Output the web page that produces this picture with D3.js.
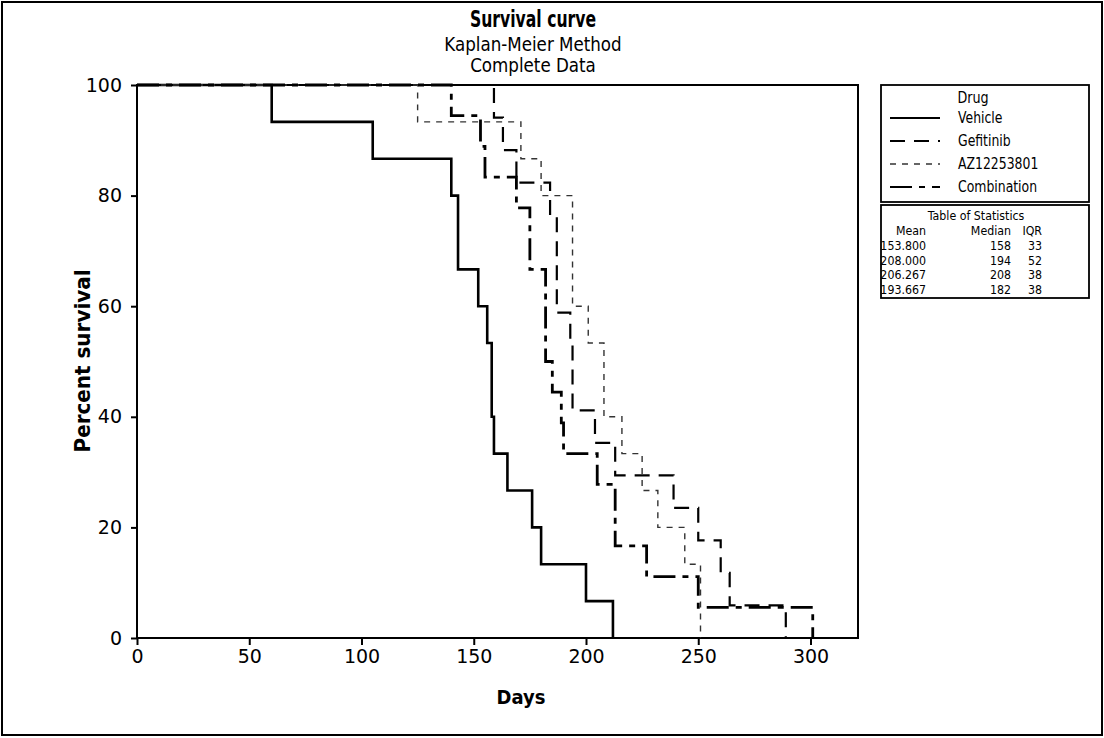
<!DOCTYPE html>
<html><head><meta charset="utf-8">
<script src="https://cdn.jsdelivr.net/npm/d3@7"></script>
<style>
html,body{margin:0;padding:0;background:#fff;}
svg{display:block;}
text{font-family:"DejaVu Sans",sans-serif;fill:#000;}
</style></head>
<body>
<script>
// ---- data: event (death) times in days for each group (complete data, no censoring) ----
const groups = ["Vehicle","Gefitinib","AZ12253801","Combination"];
const vehicleTimes = [60,105,140,143,143,152,156,158,158,159,165,176,180,200,212];
const gefitinibTimes = [159,163,169,184,187,187,187,193,194,194,204,213,239,250,260,264,289];
const azTimes = [125,171,180,194,194,194,201,208,208,216,225,232,244,251,251];
const combinationTimes = [140,153,155,169,175,175,182,182,182,185,189,190,205,213,213,227,250,301];
const xTicks = [0,50,100,150,200,250,300];
const yTicks = [0,20,40,60,80,100];
const statMean = ["153.800","208.000","206.267","193.667"];
const statMedian = ["158","194","208","182"];
const statIQR = ["33","52","38","38"];

const W=1104,H=738;
const L=137,R=858,T=85,B=638;
const svg=d3.select("body").append("svg").attr("width",W).attr("height",H);
svg.append("rect").attr("x",2).attr("y",2).attr("width",W-4).attr("height",H-5)
  .attr("fill","none").attr("stroke","#000").attr("stroke-width",2);

const x=d3.scaleLinear().domain([0,300]).range([L,810.5]);
const y=d3.scaleLinear().domain([0,100]).range([B,T]);

function txt(g,xx,yy,s,size,opts={}){
  const t=g.append("text").attr("transform",`translate(${xx},${yy}) scale(${opts.sx||1},1)`)
    .attr("text-anchor",opts.anchor||"start").style("font-size",size+"px").text(s);
  if(opts.bold) t.style("font-weight","bold");
  return t;
}
// titles
txt(svg,533,27,"Survival curve",23,{anchor:"middle",bold:true,sx:0.68});
txt(svg,533,51,"Kaplan-Meier Method",19,{anchor:"middle",sx:0.88});
txt(svg,533,72,"Complete Data",19,{anchor:"middle",sx:0.88});

// axes
const gx=svg.append("g").attr("transform",`translate(0,${B})`)
  .call(d3.axisBottom(x).tickValues(xTicks).tickSize(7).tickPadding(5));
const gy=svg.append("g").attr("transform",`translate(${L},0)`)
  .call(d3.axisLeft(y).tickValues(yTicks).tickSize(6).tickPadding(9));
[gx,gy].forEach(g=>{
  g.select(".domain").remove();
  g.selectAll(".tick line").attr("stroke","#000").attr("stroke-width",2);
  g.selectAll(".tick text").style("font-size","19px").style("font-family","DejaVu Sans");
});
svg.append("rect").attr("x",L).attr("y",T).attr("width",R-L).attr("height",B-T)
  .attr("fill","none").attr("stroke","#000").attr("stroke-width",2);

txt(svg,521,704,"Days",20,{anchor:"middle",bold:true,sx:0.9});
svg.append("text").attr("transform","translate(90,361) rotate(-90) scale(0.95,1)").attr("text-anchor","middle")
  .style("font-size","21px").style("font-weight","bold").text("Percent survival");

// KM step curves (complete data: survival = share still alive after each event time)
function km(times){
  const n=times.length; const pts=[[0,100]]; let alive=n;
  const uniq=[...new Set(times)].sort((a,b)=>a-b);
  uniq.forEach(t=>{ const d=times.filter(v=>v===t).length; alive-=d; pts.push([t,alive/n*100]); });
  return pts;
}
const styles=[
  {data:vehicleTimes,dash:null,w:2.6,c:"#000"},
  {data:gefitinibTimes,dash:"15,9",w:2.2,c:"#000"},
  {data:azTimes,dash:"6,6",w:1.4,c:"#333"},
  {data:combinationTimes,dash:"22,7,6,7",w:2.8,c:"#000"}
];
const line=d3.line().x(d=>x(d[0])).y(d=>y(d[1])).curve(d3.curveStepAfter);
styles.forEach(s=>{
  svg.append("path").datum(km(s.data)).attr("d",line).attr("fill","none")
    .attr("stroke",s.c).attr("stroke-width",s.w).attr("stroke-dasharray",s.dash);
});

// legend
const lg=svg.append("g");
lg.append("rect").attr("x",881).attr("y",T).attr("width",208).attr("height",117)
  .attr("fill","#fff").attr("stroke","#000").attr("stroke-width",1.8);
txt(lg,973,103,"Drug",15,{anchor:"middle",sx:0.85});
groups.forEach((g,i)=>{
  const yy=118+i*23;
  lg.append("line").attr("x1",890).attr("x2",940).attr("y1",yy).attr("y2",yy)
    .attr("stroke",styles[i].c).attr("stroke-width",Math.min(styles[i].w,2)).attr("stroke-dasharray",styles[i].dash);
  txt(lg,958,yy+5,g,15,{sx:0.83});
});
// table of statistics
const tb=svg.append("g");
tb.append("rect").attr("x",881).attr("y",205).attr("width",208).attr("height",93)
  .attr("fill","#fff").attr("stroke","#000").attr("stroke-width",1.8);
txt(tb,976,220,"Table of Statistics",13,{anchor:"middle",sx:0.85});
const cols=[926,1011,1042];
["Mean","Median","IQR"].forEach((h,j)=>txt(tb,cols[j],235,h,13,{anchor:"end",sx:0.85}));
statMean.forEach((m,i)=>{
  const yy=250+i*14.5;
  [m,statMedian[i],statIQR[i]].forEach((v,j)=>txt(tb,cols[j],yy,v,13,{anchor:"end",sx:0.85}));
});
</script>
</body></html>
